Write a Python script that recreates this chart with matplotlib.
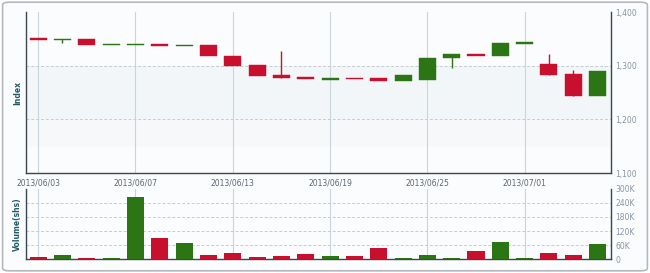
import matplotlib
matplotlib.use("Agg")
import matplotlib.pyplot as plt
from matplotlib.patches import FancyBboxPatch
import numpy as np

dates = ["2013/06/03", "2013/06/04", "2013/06/05", "2013/06/06", "2013/06/07",
         "2013/06/10", "2013/06/11", "2013/06/12", "2013/06/13", "2013/06/14",
         "2013/06/17", "2013/06/18", "2013/06/19", "2013/06/20", "2013/06/21",
         "2013/06/24", "2013/06/25", "2013/06/26", "2013/06/27", "2013/06/28",
         "2013/07/01", "2013/07/02", "2013/07/03", "2013/07/04"]
opens = [1351, 1349, 1349.5, 1339.6, 1339.6, 1340, 1337.7, 1338.3, 1317.8, 1300.4,
         1282.2, 1278.5, 1275.3, 1276.3, 1276.6, 1271.6, 1273, 1314, 1320, 1317.8,
         1342, 1304, 1284.7, 1243]
closes = [1348, 1349, 1338.9, 1339.6, 1339.6, 1337, 1337.7, 1317.8, 1299, 1280.4,
          1277.2, 1274.8, 1275.3, 1276, 1271.6, 1282.2, 1314, 1321.5, 1319.6, 1342.6,
          1342, 1282.8, 1243, 1290.3]
highs = [1351, 1349, 1349.5, 1339.6, 1339.6, 1340, 1337.7, 1338.3, 1317.8, 1300.4,
         1327.1, 1278.5, 1275.3, 1276.3, 1276.6, 1282.2, 1314, 1321.5, 1320, 1342.6,
         1342, 1321.5, 1292.9, 1290.3]
lows = [1348, 1342, 1338.9, 1339.6, 1339.6, 1337, 1337.7, 1317.8, 1299, 1280.4,
        1277.2, 1274.8, 1275.3, 1276, 1271.6, 1271.6, 1273, 1296, 1319.6, 1317.8,
        1342, 1282.8, 1243, 1243]
volumes = [10000, 17000, 4000, 3000, 267000, 91000, 70000, 17000, 27000, 10000,
           14000, 23000, 14000, 13000, 48000, 6000, 18000, 4000, 36000, 74000,
           4000, 24000, 18000, 66000]
up_flags = [False, True, False, True, True, False, True, False, False, False,
            False, False, True, False, False, True, True, True, False, True,
            True, False, False, True]
price_ticks = [1100, 1200, 1300, 1400]
price_tick_labels = ["1,100", "1,200", "1,300", "1,400"]
vol_ticks = [0, 60000, 120000, 180000, 240000, 300000]
vol_tick_labels = ["0", "60K", "120K", "180K", "240K", "300K"]
date_tick_idx = [0, 4, 8, 12, 16, 20]

RED = "#c8102e"
GREEN = "#2b7514"
GRID = "#c9d5dc"
LABEL = "#8795a3"
TEAL = "#1f5a66"

fig = plt.figure(figsize=(6.5, 2.73), dpi=100)
fig.patch.set_facecolor("white")
border = FancyBboxPatch((0.004, 0.008), 0.992, 0.984, boxstyle="round,pad=0,rounding_size=0.01",
                        transform=fig.transFigure, facecolor="#fbfcfd", edgecolor="#b5b9bd",
                        linewidth=1.2, zorder=-10)
fig.patches.append(border)

left, width = 0.040, 0.900
ax = fig.add_axes([left, 0.366, width, 0.590])
axv = fig.add_axes([left, 0.051, width, 0.257])

x = np.arange(len(dates))
xlim = (-0.5, len(dates) - 0.45)

for a in (ax, axv):
    a.set_facecolor("none")
    a.set_xlim(*xlim)
    a.spines["top"].set_visible(False)
    for s in ("left", "right", "bottom"):
        a.spines[s].set_color("#3a4650")
        a.spines[s].set_linewidth(1.0)
    a.yaxis.tick_right()
    a.tick_params(axis="y", length=0, labelsize=5.5, labelcolor=LABEL, pad=3)
    a.set_xticks(date_tick_idx)
    for i in date_tick_idx:
        a.axvline(i, color=GRID, lw=0.8, zorder=0)

# main panel
ax.set_ylim(1100, 1400)
ax.axhspan(1200, 1300, color="#f2f6f8", zorder=-1)
ax.axhspan(1150, 1200, color="#f6f8fa", zorder=-1)
for v in (1200, 1300):
    ax.axhline(v, color="#c5ccd2", lw=0.7, ls=(0, (3, 2)), zorder=0)
ax.set_yticks(price_ticks)
ax.set_yticklabels(price_tick_labels)
ax.set_xticklabels([dates[i] for i in date_tick_idx])
ax.tick_params(axis="x", length=0, labelsize=5.5, labelcolor="#5a6572", pad=4)
ax.set_ylabel("Index", fontsize=5.5, color=TEAL, fontweight="bold", labelpad=3)

bw = 0.7
for i in range(len(dates)):
    c = GREEN if up_flags[i] else RED
    o, cl, h, l = opens[i], closes[i], highs[i], lows[i]
    lo, hi = min(o, cl), max(o, cl)
    if h > hi or l < lo:
        ax.vlines(i, l, h, color=c, lw=1.0, zorder=2)
    hgt = hi - lo
    if hgt < 2.8:
        mid = (hi + lo) / 2
        lo, hgt = mid - 1.4, 2.8
    ax.bar(i, hgt, bottom=lo, width=bw, color=c, edgecolor=c, linewidth=0.3, zorder=3)

# volume panel
axv.set_ylim(0, 300000)
for v in (60000, 120000, 180000, 240000):
    axv.axhline(v, color="#c5ccd2", lw=0.7, ls=(0, (3, 2)), zorder=0)
axv.set_yticks(vol_ticks)
axv.set_yticklabels(vol_tick_labels)
axv.set_xticklabels([])
axv.tick_params(axis="x", length=0)
axv.set_ylabel("Volume(shs)", fontsize=5.5, color=TEAL, fontweight="bold", labelpad=3)
vcolors = [GREEN if u else RED for u in up_flags]
axv.bar(x, volumes, width=bw, color=vcolors, zorder=3)

fig.savefig("out.png", dpi=100)
